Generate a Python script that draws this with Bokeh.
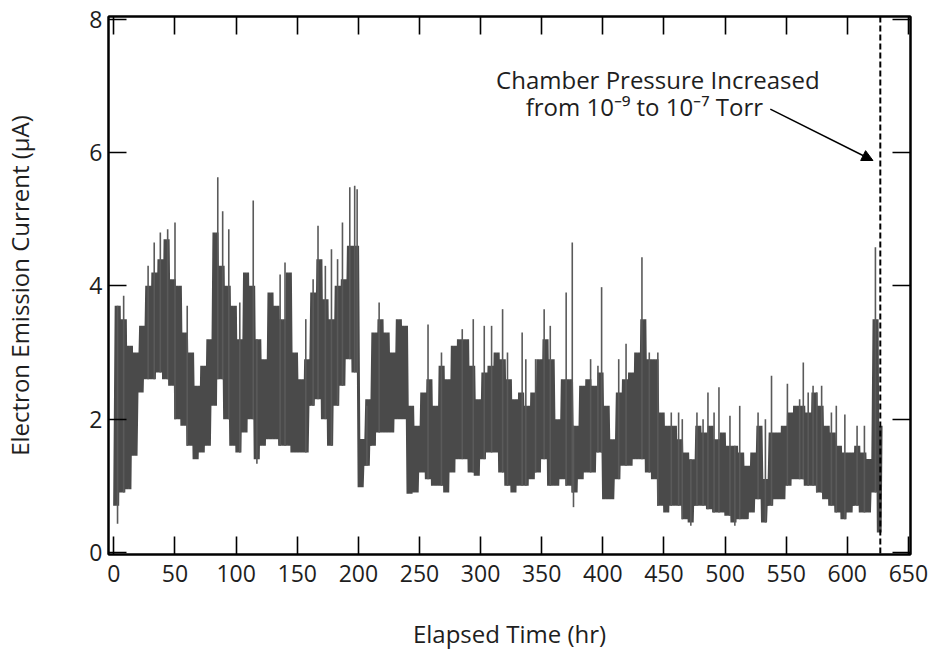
from bokeh.plotting import figure
from bokeh.models import Range1d, LinearAxis, FixedTicker, Span, Arrow, NormalHead
from bokeh.core.properties import value
from bokeh.embed import file_html
from bokeh.resources import INLINE

# ---- data (5-hr bins: lower / upper envelope of the noisy band) ----
bin_start = list(range(0, 625, 5)) + [625]
bin_end = list(range(5, 630, 5)) + [628]
band_low = [0.7, 0.9, 0.95, 1.45, 2.4, 2.6, 2.6, 2.7, 2.6, 2.5,
            2.0, 1.9, 1.6, 1.4, 1.5, 1.6, 2.2, 2.6, 2.0, 1.6,
            1.5, 1.8, 2.0, 1.4, 1.6, 1.7, 1.7, 1.6, 1.6, 1.5,
            1.5, 1.5, 2.2, 2.3, 2.0, 1.6, 2.2, 2.5, 2.9, 2.7,
            0.98, 1.3, 1.6, 1.8, 1.8, 1.8, 2.0, 2.0, 0.88, 0.9,
            1.2, 1.1, 1.0, 1.0, 0.9, 1.2, 1.4, 1.4, 1.2, 1.15,
            1.4, 1.5, 1.5, 1.2, 1.0, 0.9, 1.0, 1.0, 1.1, 1.2,
            1.4, 1.0, 1.0, 1.1, 1.0, 0.9, 1.1, 1.2, 1.2, 1.5,
            0.8, 0.8, 1.1, 1.3, 1.3, 1.4, 1.4, 1.2, 1.1, 0.7,
            0.6, 0.7, 0.7, 0.5, 0.45, 0.7, 0.7, 0.65, 0.6, 0.6,
            0.55, 0.45, 0.5, 0.5, 0.6, 0.8, 0.45, 0.7, 0.8, 0.8,
            1.0, 1.1, 1.1, 1.0, 1.0, 0.9, 0.8, 0.7, 0.6, 0.5,
            0.6, 0.7, 0.6, 0.6, 0.9, 0.3]
band_high = [3.7, 3.5, 3.1, 3.0, 3.4, 4.0, 4.2, 4.4, 4.7, 4.1,
             4.0, 3.3, 3.0, 2.5, 2.8, 3.2, 4.8, 4.3, 4.0, 3.7,
             3.2, 4.2, 4.0, 3.2, 2.9, 3.9, 3.7, 3.5, 4.2, 3.0,
             2.6, 2.9, 3.9, 4.4, 3.8, 3.5, 4.0, 4.1, 4.6, 4.6,
             1.7, 2.3, 3.3, 3.5, 3.3, 3.0, 3.5, 3.4, 2.2, 1.9,
             2.4, 2.6, 2.2, 2.8, 2.6, 3.1, 3.2, 3.2, 2.8, 2.3,
             2.7, 2.8, 3.0, 2.9, 2.6, 2.3, 2.4, 2.2, 2.4, 2.9,
             3.2, 2.9, 2.0, 2.6, 2.6, 1.9, 2.5, 2.6, 2.5, 2.7,
             2.2, 1.7, 2.4, 2.6, 2.7, 3.0, 3.5, 2.9, 2.9, 2.1,
             1.9, 1.9, 1.7, 1.5, 1.4, 1.9, 1.8, 1.9, 1.7, 1.8,
             1.6, 1.6, 1.5, 1.3, 1.5, 1.9, 1.1, 1.8, 1.8, 1.9,
             2.1, 2.2, 2.2, 2.1, 2.4, 2.2, 1.9, 1.8, 1.6, 1.5,
             1.5, 1.6, 1.5, 1.4, 3.5, 1.9]

# isolated spikes above the band (time, peak)
spike_time = [8, 28, 33, 38, 44, 50, 60, 85, 89, 94, 103, 114, 136, 140, 157, 163, 167, 173, 178,
              183, 187, 193, 197, 199, 207, 217, 257, 268, 285, 294, 303, 309, 318, 322, 334, 337,
              345, 352, 357, 370, 375, 390, 396, 399, 413, 419, 432, 438, 445, 456, 462, 465,
              477, 482, 486, 491, 495, 504, 512, 527, 533, 538, 551, 561, 564, 568, 572, 575,
              579, 587, 591, 598, 608, 614, 623]
spike_top = [3.85, 4.3, 4.65, 4.8, 4.85, 4.95, 3.7, 5.63, 5.12, 4.85, 3.75, 5.28, 4.17, 4.35, 3.5, 4.1,
             4.9, 4.3, 4.55, 4.4, 4.95, 5.48, 5.5, 5.45, 2.2, 3.75, 3.42, 3.0, 3.35, 3.5, 3.4, 3.4,
             3.65, 3.0, 3.3, 2.9, 2.9, 3.65, 3.4, 3.9, 4.65, 2.9, 2.8, 3.98, 2.9, 3.13, 4.43, 3.0,
             3.0, 2.1, 2.1, 2.0, 2.1, 2.0, 2.4, 2.1, 2.48, 2.05, 2.2, 2.1, 2.0, 2.65, 2.53, 2.3,
             2.85, 2.4, 2.5, 2.4, 2.5, 2.1, 2.2, 2.07, 1.9, 1.9, 4.58]

# isolated dips below the band (time, minimum)
dip_time = [3, 117, 376, 472, 508]
dip_bottom = [0.43, 1.33, 0.68, 0.4, 0.4]

pressure_change_time = 627
x_ticks = list(range(0, 651, 50))
y_ticks = [0, 2, 4, 6, 8]

FONT = "Open Sans"
TXT = "#1e1e1e"
BAND = "#4a4a4a"


def bin_index(t):
    return min(int(t // 5), len(bin_start) - 1)


spike_base = [band_low[bin_index(t)] for t in spike_time]
dip_top = [band_high[bin_index(t)] for t in dip_time]

# the band is traced as a fast oscillation between each bin's lower and upper envelope
trace_x, trace_y = [], []
for s, e, lo, hi in zip(bin_start, bin_end, band_low, band_high):
    w = e - s
    for k, v in enumerate((lo, hi, lo, hi)):
        trace_x.append(s + w * (k + 0.5) / 4)
        trace_y.append(v)

p = figure(width=933, height=656, output_backend="svg", toolbar_location=None,
           x_range=Range1d(-4.4, 651.7), y_range=Range1d(-0.03, 8.04),
           min_border_left=107, min_border_right=23, min_border_top=16, min_border_bottom=102,
           background_fill_color="white", border_fill_color="white")
p.grid.visible = False
p.outline_line_color = "black"
p.outline_line_width = 2

p.line(x=trace_x, y=trace_y, line_color=BAND, line_width=3.0, line_join="bevel")
p.segment(x0=spike_time, x1=spike_time, y0=spike_base, y1=spike_top,
          line_color="#5a5a5a", line_width=1.6)
p.segment(x0=dip_time, x1=dip_time, y0=dip_bottom, y1=dip_top,
          line_color="#5a5a5a", line_width=1.6)

p.add_layout(Span(location=pressure_change_time, dimension="height", line_color="black",
                  line_width=2, line_dash="6 3"))

p.add_layout(Arrow(end=NormalHead(size=11, fill_color="black", line_color="black"),
                   x_start=537, y_start=6.65, x_end=621, y_end=5.88,
                   line_color="black", line_width=1.5))

p.text(x=[445], y=[7.09], text=["Chamber Pressure Increased"], text_font=value(FONT),
       text_font_size="24px", text_align="center", text_baseline="middle", text_color=TXT)
p.text(x=[434], y=[6.69], text=["from 10\u207b\u2079 to 10\u207b\u2077 Torr"], text_font=value(FONT),
       text_font_size="24px", text_align="center", text_baseline="middle", text_color=TXT)


def style_axis(ax, ticks, show_labels):
    ax.ticker = FixedTicker(ticks=ticks)
    ax.major_tick_in = 18
    ax.major_tick_out = 0
    ax.minor_tick_in = 0
    ax.minor_tick_out = 0
    ax.major_tick_line_color = "black"
    ax.major_tick_line_width = 1.6
    ax.axis_line_color = "black"
    ax.axis_line_width = 2
    ax.major_label_text_font = FONT
    ax.major_label_text_font_size = "23px" if show_labels else "0px"
    ax.major_label_text_color = TXT if show_labels else None
    ax.axis_label_text_font = FONT
    ax.axis_label_text_font_size = "24px"
    ax.axis_label_text_font_style = "normal"
    ax.axis_label_text_color = TXT


top_axis = LinearAxis()
right_axis = LinearAxis()
p.add_layout(top_axis, "above")
p.add_layout(right_axis, "right")

for ax in p.below:
    style_axis(ax, x_ticks, True)
    ax.axis_label = "Elapsed Time (hr)"
    ax.major_label_standoff = 10
    ax.axis_label_standoff = 32
for ax in p.left:
    style_axis(ax, y_ticks, True)
    ax.axis_label = "Electron Emission Current (\u03bcA)"
    ax.major_label_standoff = 6
    ax.axis_label_standoff = 50
style_axis(top_axis, x_ticks, False)
top_axis.major_label_standoff = 0
style_axis(right_axis, y_ticks, False)
right_axis.major_label_standoff = 0

open("out.html", "w").write(file_html(p, INLINE))
